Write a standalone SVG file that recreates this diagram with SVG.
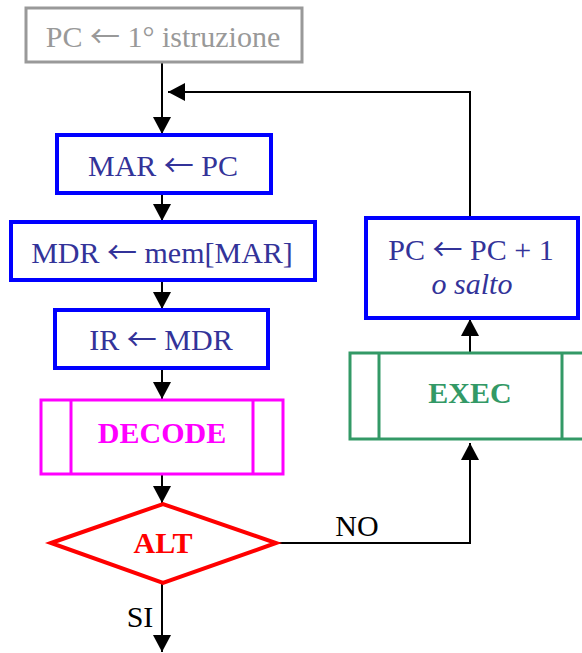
<svg xmlns="http://www.w3.org/2000/svg" width="582" height="653" viewBox="0 0 582 653">
<style>
text{font-family:"Liberation Serif","Times New Roman",serif;font-size:30px;text-anchor:middle}
.ar{font-family:"Noto Sans CJK SC","DejaVu Sans",sans-serif;font-weight:normal}
.blue{fill:none;stroke:#0000ff;stroke-width:4}
.bt{fill:#333399}
.conn{fill:none;stroke:#000;stroke-width:2}
.lbl{fill:#000}
</style>
<defs>
<marker id="ah" viewBox="0 0 17 18" refX="17" refY="9" markerWidth="17" markerHeight="18" markerUnits="userSpaceOnUse" orient="auto">
<path d="M0,0 L17,9 L0,18 Z" fill="#000"/>
</marker>
</defs>
<rect width="582" height="653" fill="#fff"/>
<g id="connectors">
<path class="conn" d="M162,62 V134" marker-end="url(#ah)"/>
<path class="conn" d="M470,218 V92 H168" marker-end="url(#ah)"/>
<path class="conn" d="M162,193 V221" marker-end="url(#ah)"/>
<path class="conn" d="M162,280 V309" marker-end="url(#ah)"/>
<path class="conn" d="M162,368 V399" marker-end="url(#ah)"/>
<path class="conn" d="M162,474 V503" marker-end="url(#ah)"/>
<path class="conn" d="M162,583 V652" marker-end="url(#ah)"/>
<path class="conn" d="M277,543 H470 V443" marker-end="url(#ah)"/>
<path class="conn" d="M470,353 V319" marker-end="url(#ah)"/>
<text class="lbl" x="140" y="627">SI</text>
<text class="lbl" x="357" y="536">NO</text>
</g>
<g id="start">
<rect x="26" y="8" width="276" height="54" fill="none" stroke="#999999" stroke-width="3"/>
<text x="163" y="47" fill="#999999">PC <tspan class="ar">←</tspan> 1° istruzione</text>
</g>
<g id="mar">
<rect class="blue" x="57" y="135" width="214" height="58"/>
<text class="bt" x="163" y="176">MAR <tspan class="ar">←</tspan> PC</text>
</g>
<g id="mdr">
<rect class="blue" x="11" y="222" width="304" height="58"/>
<text class="bt" x="162" y="263">MDR <tspan class="ar">←</tspan> mem[MAR]</text>
</g>
<g id="ir">
<rect class="blue" x="55" y="310" width="213" height="58"/>
<text class="bt" x="161" y="350">IR <tspan class="ar">←</tspan> MDR</text>
</g>
<g id="decode" fill="none" stroke="#ff00ff" stroke-width="3">
<rect x="41" y="400" width="242" height="74"/>
<line x1="71" y1="400" x2="71" y2="474"/>
<line x1="253" y1="400" x2="253" y2="474"/>
<text x="162" y="443" fill="#ff00ff" stroke="none" font-weight="bold">DECODE</text>
</g>
<g id="alt">
<polygon points="51,543 163,504 276,543 163,583" fill="none" stroke="#ff0000" stroke-width="4"/>
<text x="163" y="553" fill="#ff0000" font-weight="bold">ALT</text>
</g>
<g id="exec" fill="none" stroke="#339966" stroke-width="3">
<rect x="350" y="353" width="242" height="86"/>
<line x1="379" y1="353" x2="379" y2="439"/>
<line x1="562" y1="353" x2="562" y2="439"/>
<text x="470" y="403" fill="#339966" stroke="none" font-weight="bold">EXEC</text>
</g>
<g id="pcinc">
<rect class="blue" x="366" y="218" width="212" height="100"/>
<text class="bt" x="471" y="260">PC <tspan class="ar">←</tspan> PC + 1</text>
<text class="bt" x="472" y="294" font-style="italic">o salto</text>
</g>
</svg>
